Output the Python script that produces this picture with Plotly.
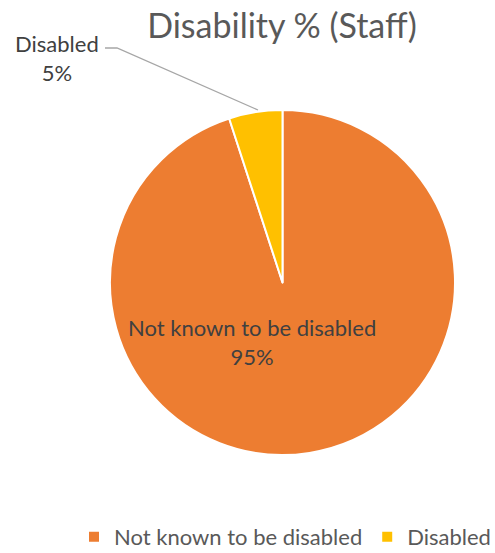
import plotly.graph_objects as go

# Staff disability breakdown
categories = ["Not known to be disabled", "Disabled"]
values = [95, 5]
colors = ["#ED7D31", "#FFC000"]
title_text = "Disability % (Staff)"

W, H = 495, 553
FONT = "Lato, 'Open Sans', sans-serif"
TEXT_COLOR = "#404040"

total = sum(values)
pcts = [f"{round(v / total * 100)}%" for v in values]

fig = go.Figure(
    go.Pie(
        labels=categories,
        values=values,
        marker=dict(colors=colors, line=dict(color="white", width=2)),
        sort=False,
        direction="clockwise",
        rotation=0,
        textinfo="none",
        hoverinfo="label+percent",
        domain=dict(x=[110 / W, 455 / W], y=[1 - 455 / H, 1 - 110 / H]),
    )
)

# Data labels
fig.add_annotation(
    x=252 / W, y=1 - 342 / H, xref="paper", yref="paper",
    xanchor="center", yanchor="middle",
    text=f"{categories[0]}<br>{pcts[0]}", showarrow=False,
    font=dict(family=FONT, size=22, color=TEXT_COLOR), align="center",
)
fig.add_annotation(
    x=57 / W, y=1 - 58 / H, xref="paper", yref="paper",
    xanchor="center", yanchor="middle",
    text=f"{categories[1]}<br>{pcts[1]}", showarrow=False,
    font=dict(family=FONT, size=22, color=TEXT_COLOR), align="center",
)

# Leader line for the small slice label
fig.add_shape(type="path", xref="paper", yref="paper",
              path=f"M {105 / W} {1 - 48 / H} L {117 / W} {1 - 48 / H} L {258 / W} {1 - 110 / H}",
              line=dict(color="#A6A6A6", width=1.3))

fig.update_layout(
    width=W, height=H,
    margin=dict(l=0, r=0, t=0, b=0, autoexpand=False),
    paper_bgcolor="white",
    title=dict(text=title_text, x=282 / W, xanchor="center", y=1 - 26 / H, yanchor="middle",
               font=dict(family=FONT, size=34, color="#595959")),
    showlegend=True,
    legend=dict(orientation="h", x=285 / W, xanchor="center", y=1 - 537 / H, yanchor="middle",
                font=dict(family=FONT, size=22, color="#595959"), itemwidth=30,
                traceorder="normal"),
)

fig.write_html("out.html")
